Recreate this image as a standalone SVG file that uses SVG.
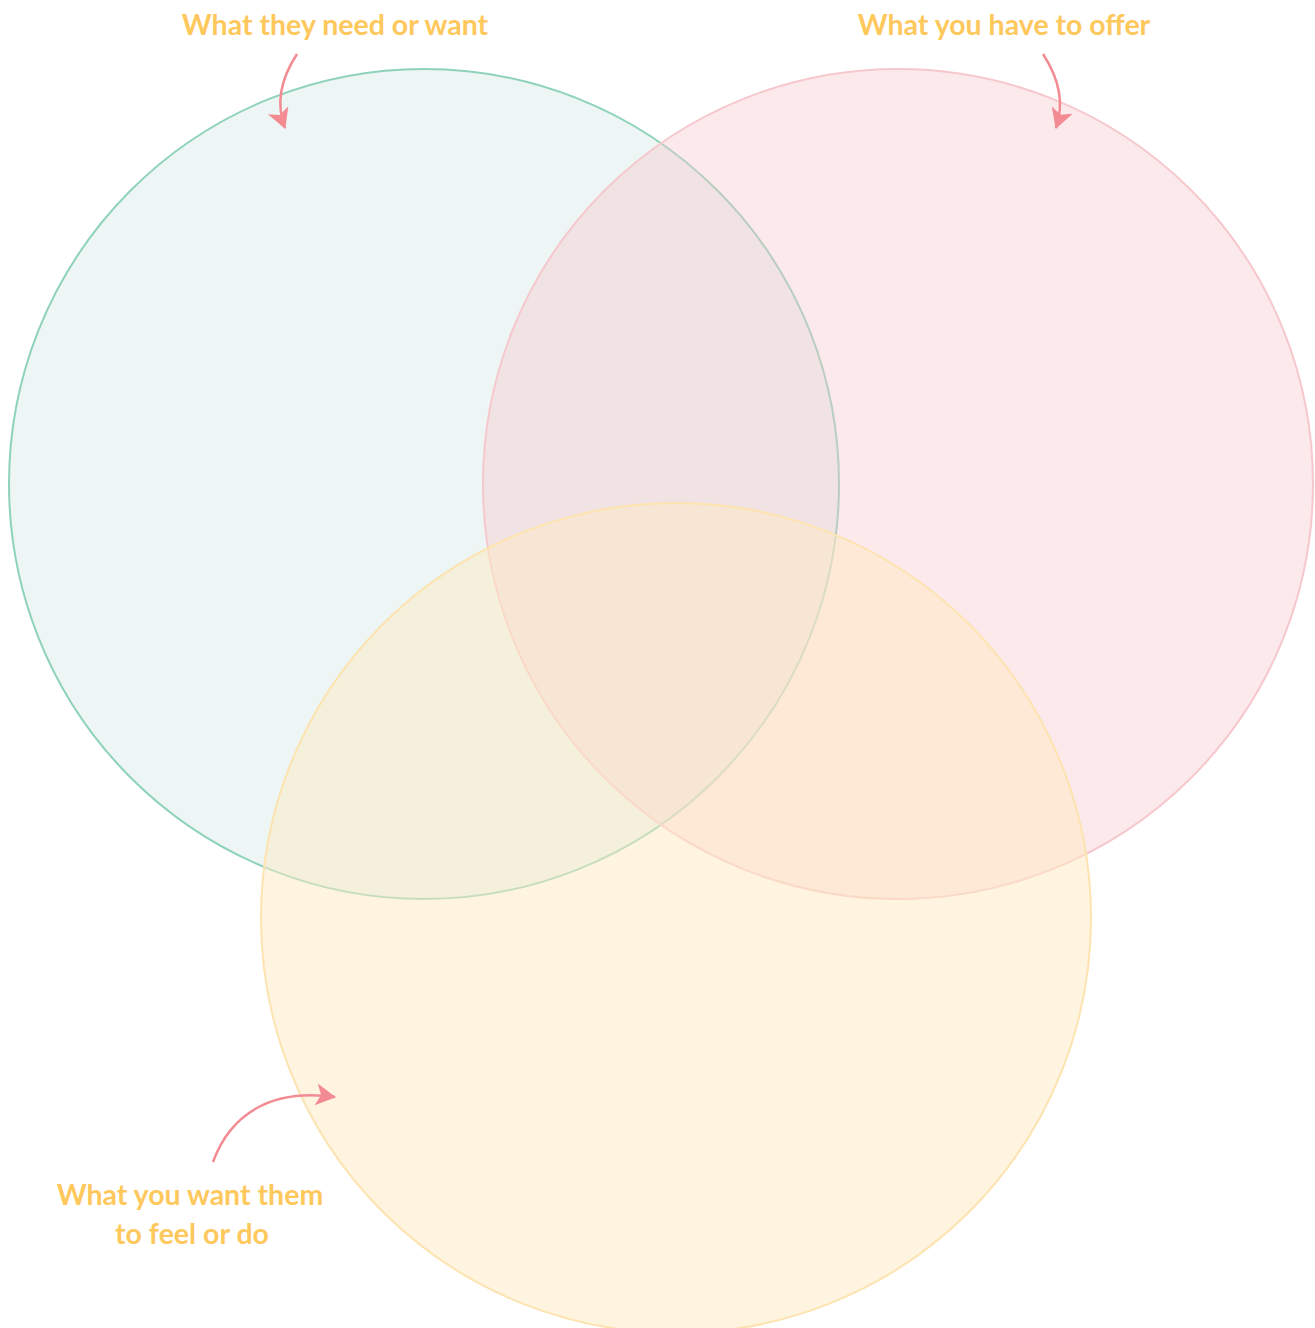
<svg xmlns="http://www.w3.org/2000/svg" width="1315" height="1328" viewBox="0 0 1315 1328">
<defs>
<style>
.lbl{font-family:Lato,"Open Sans","Liberation Sans",sans-serif;font-weight:700;font-size:28.5px;fill:#fec85d;text-anchor:middle}
.set{stroke-width:2}
.arr{fill:none;stroke:#f38b92;stroke-width:2.5}
</style>
<marker id="ah" markerUnits="userSpaceOnUse" markerWidth="26" markerHeight="28" viewBox="-22 -14 26 28" refX="0" refY="0" orient="auto">
<path d="M1,0 L-19,-11 L-14,0 L-19,11 Z" fill="#f38b92"/>
</marker>
</defs>
<rect width="1315" height="1328" fill="#ffffff"/>
<g id="need">
<circle class="set" cx="424" cy="484" r="415" fill="rgb(204,229,224)" fill-opacity="0.35" stroke="#8fd2ba"/>
</g>
<g id="offer">
<circle class="set" cx="898" cy="484" r="415" fill="rgb(247,200,205)" fill-opacity="0.4" stroke="#f6c8cd"/>
</g>
<g id="feel">
<circle class="set" cx="676" cy="918" r="415" fill="rgb(253,233,193)" fill-opacity="0.5" stroke="#fde3b0"/>
</g>
<g id="connectors">
<path class="arr" d="M297,54 C280,80 276,105 285,128" marker-end="url(#ah)"/>
<path class="arr" d="M1043,54 C1060,80 1064,105 1056,128" marker-end="url(#ah)"/>
<path class="arr" d="M213,1162 C230,1115 270,1088 335,1097" marker-end="url(#ah)"/>
</g>
<g id="label-need"><text class="lbl" x="335" y="35">What they need or want</text></g>
<g id="label-offer"><text class="lbl" x="1004" y="35">What you have to offer</text></g>
<g id="label-feel"><text class="lbl" x="190" y="1205">What you want them</text><text class="lbl" x="192" y="1244">to feel or do</text></g>
</svg>
